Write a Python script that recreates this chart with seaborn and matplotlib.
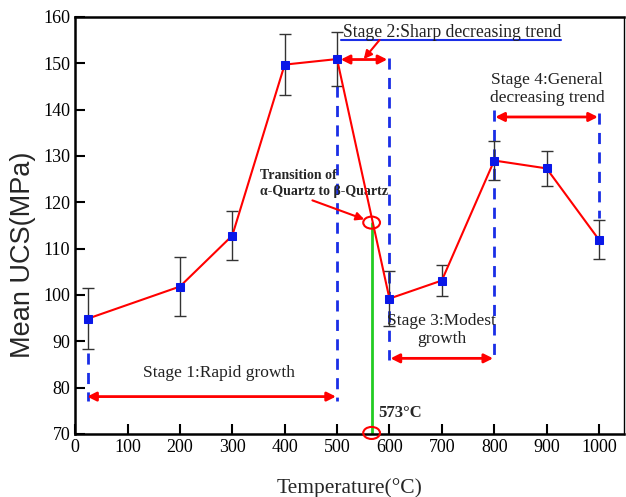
import matplotlib
matplotlib.use("Agg")
import matplotlib.pyplot as plt
import seaborn as sns
import pandas as pd
from matplotlib.patches import Ellipse

# ---- data ----
temps = [25, 200, 300, 400, 500, 600, 700, 800, 900, 1000]
ucs = [94.9, 101.8, 112.8, 149.7, 150.9, 99.2, 103.1, 129.0, 127.3, 111.9]
err = [6.5, 6.3, 5.2, 6.6, 5.8, 6.0, 3.3, 4.2, 3.7, 4.2]
x_ticks = [0, 100, 200, 300, 400, 500, 600, 700, 800, 900, 1000]
y_ticks = [70, 80, 90, 100, 110, 120, 130, 140, 150, 160]
transition_temp = 566
transition_ucs = 115.6

sns.set_style("ticks")
plt.rcParams['font.family'] = ['Liberation Serif', 'DejaVu Serif']

df = pd.DataFrame({"T": temps, "UCS": ucs, "err": err})

fig = plt.figure(figsize=(6.26, 4.97), dpi=100)
ax = fig.add_axes([0.120, 0.127, 0.877, 0.839])

ax.errorbar(df["T"], df["UCS"], yerr=df["err"], fmt="none", ecolor="#333333",
            elinewidth=1.0, capsize=4.5, capthick=1.0, zorder=3)
sns.lineplot(data=df, x="T", y="UCS", ax=ax, color="red", linewidth=1.5,
             marker="s", markersize=5.5, markerfacecolor="#0a18e8",
             markeredgecolor="#0a18e8", zorder=4, legend=False)

blue = "#1a2ee6"
dash = dict(color=blue, linewidth=2, linestyle=(0, (4, 3)), zorder=2)
# dashed stage boundaries
ax.plot([25, 25], [87.5, 77.0], **dash)
ax.plot([500, 500], [145, 77.0], **dash)
ax.plot([600, 600], [151.2, 86.0], **dash)
ax.plot([800, 800], [140.0, 86.0], **dash)
ax.plot([1000, 1000], [139.3, 116.5], **dash)

arr = dict(arrowstyle="<|-|>", color="red", lw=2, mutation_scale=13,
           shrinkA=0, shrinkB=0)
ax.annotate("", xy=(23, 78.05), xytext=(498, 78.05), arrowprops=arr)
ax.annotate("", xy=(507, 150.8), xytext=(596, 150.8), arrowprops=arr)
ax.annotate("", xy=(602, 86.3), xytext=(798, 86.3), arrowprops=arr)
ax.annotate("", xy=(802, 138.4), xytext=(998, 138.4), arrowprops=arr)

txt = "#222222"
ax.text(274, 83.2, "Stage 1:Rapid growth", fontsize=12.5, ha="center", va="center", color=txt)
ax.text(511, 156.7, "Stage 2:Sharp decreasing trend", fontsize=12.7, ha="left", va="center", color=txt)
ax.plot([508, 928], [155.1, 155.1], color=blue, linewidth=1.5)
ax.annotate("", xy=(551, 150.9), xytext=(581, 155.0),
            arrowprops=dict(arrowstyle="-|>", color="red", lw=1.5, mutation_scale=12,
                            shrinkA=0, shrinkB=0))
ax.text(700, 92.4, "Stage 3:Modest\ngrowth", fontsize=12.5, ha="center", va="center",
        color=txt, linespacing=1.2)
ax.text(901, 144.5, "Stage 4:General\ndecreasing trend", fontsize=12.5, ha="center", va="center",
        color=txt, linespacing=1.2)

# transition annotation
ax.text(352, 124.0, "Transition of\n\u03b1-Quartz to \u03b2-Quartz", fontsize=10, fontweight="bold",
        ha="left", va="center", linespacing=1.35)
ax.annotate("", xy=(552, 116.3), xytext=(453, 120.4),
            arrowprops=dict(arrowstyle="-|>", color="red", lw=1.5, mutation_scale=12,
                            shrinkA=0, shrinkB=0))
ax.plot([transition_temp, transition_temp], [transition_ucs, 70], color="#22cc22", linewidth=2, zorder=2)
ax.add_patch(Ellipse((transition_temp, transition_ucs), 32, 2.6, fill=False, edgecolor="red", lw=1.5, zorder=5))
ax.add_patch(Ellipse((transition_temp, 70.2), 32, 2.6, fill=False, edgecolor="red", lw=1.5, zorder=5,
                     clip_on=False))
ax.text(578, 74.6, "573\u00b0C", fontsize=12, fontweight="bold", ha="left", va="center")

ax.set_xlim(0, 1048)
ax.set_ylim(70, 160)
ax.set_xticks(x_ticks)
ax.set_yticks(y_ticks)
ax.tick_params(direction="in", length=7, width=1.5, labelsize=13, colors="black",
               top=False, right=False)
for s in ["left", "bottom", "top"]:
    ax.spines[s].set_linewidth(1.8)
ax.spines["right"].set_linewidth(1.0)
for s in ax.spines.values():
    s.set_color("black")
ax.set_xlabel("Temperature(\u00b0C)", fontsize=15.5, labelpad=16)
ax.set_ylabel("Mean UCS(MPa)", fontsize=19.5, family=["Liberation Sans", "DejaVu Sans"])
ax.yaxis.set_label_coords(-0.072, 0.43)

fig.savefig("out.png", dpi=100)
